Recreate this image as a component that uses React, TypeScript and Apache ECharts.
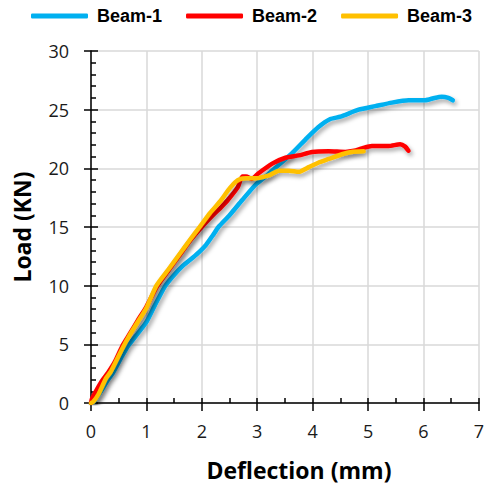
import React, { useEffect, useRef } from "react";
import * as echarts from "echarts";

const seriesNames = ["Beam-1", "Beam-2", "Beam-3"];
const seriesColors = ["#00B0F0", "#FF0000", "#FFC000"];

const beam1: [number, number][] = [
  [0, 0], [0.05, 0.1], [0.18, 1.0], [0.31, 2.0], [0.4, 2.6], [0.55, 3.9], [0.66, 4.8],
  [0.84, 5.9], [1.0, 6.9], [1.15, 8.3], [1.33, 9.9], [1.48, 10.8], [1.66, 11.7],
  [1.84, 12.4], [1.96, 12.9], [2.08, 13.5], [2.2, 14.3], [2.3, 15.0], [2.5, 16.0],
  [2.73, 17.3], [2.97, 18.6], [3.15, 19.3], [3.39, 20.3], [3.63, 21.3], [3.9, 22.6],
  [4.1, 23.5], [4.32, 24.2], [4.5, 24.4], [4.83, 25.0], [5.13, 25.3], [5.43, 25.6],
  [5.73, 25.8], [6.03, 25.8], [6.2, 26.0], [6.33, 26.1], [6.45, 26.0], [6.53, 25.8],
];

const beam2: [number, number][] = [
  [0, 0], [0.02, 0.4], [0.1, 1.1], [0.2, 1.9], [0.31, 2.6], [0.43, 3.5], [0.57, 4.9],
  [0.7, 5.9], [0.84, 7.0], [1.0, 8.2], [1.2, 10.0], [1.4, 11.3], [1.6, 12.6],
  [1.8, 13.9], [2.0, 15.0], [2.2, 16.0], [2.35, 16.7], [2.47, 17.3], [2.65, 18.4],
  [2.73, 19.3], [2.8, 19.3], [2.9, 19.1], [3.03, 19.6], [3.27, 20.4], [3.51, 20.9],
  [3.75, 21.1], [3.99, 21.4], [4.29, 21.45], [4.59, 21.4], [4.75, 21.5], [4.89, 21.7],
  [5.07, 21.9], [5.37, 21.9], [5.58, 22.05], [5.67, 21.85], [5.73, 21.5],
];

const beam3: [number, number][] = [
  [0, 0], [0.04, 0.1], [0.13, 0.7], [0.27, 2.1], [0.36, 2.7], [0.55, 4.5], [0.7, 5.8],
  [0.87, 7.1], [1.0, 8.1], [1.18, 10.0], [1.4, 11.4], [1.6, 12.7], [1.8, 14.0],
  [1.96, 15.0], [2.15, 16.2], [2.35, 17.3], [2.47, 18.1], [2.6, 18.8], [2.7, 19.1],
  [2.8, 19.15], [2.97, 19.15], [3.21, 19.4], [3.39, 19.8], [3.57, 19.8], [3.75, 19.7],
  [3.93, 20.1], [4.11, 20.5], [4.29, 20.8], [4.53, 21.2], [4.7, 21.4], [4.92, 21.45],
];

const xMin = 0, xMax = 7, xStep = 1;
const yMin = 0, yMax = 30, yStep = 5;
const xTitle = "Deflection (mm)";
const yTitle = "Load (KN)";

export default function App() {
  const ref = useRef<HTMLDivElement>(null);
  useEffect(() => {
    if (!ref.current) return;
    const chart = echarts.init(ref.current, null, { renderer: "svg" });
    const labelFont = { fontFamily: "Open Sans", fontSize: 18, color: "#1a1a1a" };
    const nameFont = { fontFamily: "Open Sans", fontSize: 23, fontWeight: "bold" as const, color: "#000" };
    const datas = [beam1, beam2, beam3];
    const tickLine = { color: "#000", width: 1.5 };
    chart.setOption({
      animation: false,
      backgroundColor: "#fff",
      legend: {
        top: 7,
        left: 31,
        padding: 0,
        itemWidth: 57,
        itemHeight: 5,
        itemGap: 24,
        icon: "roundRect",
        textStyle: { fontFamily: "Liberation Sans", fontSize: 18, fontWeight: "bold", color: "#000", padding: [0, 0, 0, 4] },
        data: seriesNames,
      },
      grid: { left: 91, right: 6, top: 51, bottom: 83 },
      xAxis: [
        {
          type: "value", min: xMin, max: xMax, interval: xStep, position: "bottom",
          name: xTitle, nameLocation: "middle", nameGap: 55,
          nameTextStyle: { ...nameFont, padding: [0, 0, 0, 28] },
          axisLine: { show: true, onZero: false, lineStyle: { color: "#000", width: 1.5 } },
          axisTick: { show: true, length: 8, lineStyle: tickLine },
          axisLabel: { ...labelFont, margin: 19 },
          splitLine: { show: true, lineStyle: { color: "#d9d9d9", width: 1.5 } },
        },
        {
          type: "value", min: xMin, max: xMax, interval: xStep, position: "bottom",
          axisLine: { show: true, onZero: false, lineStyle: { color: "rgba(0,0,0,0)", width: 1 } },
          axisTick: { show: true, inside: true, length: 5, lineStyle: tickLine },
          minorTick: { show: true, splitNumber: 2, length: 5, lineStyle: tickLine },
          axisLabel: { show: false },
          splitLine: { show: false },
        },
      ],
      yAxis: [
        {
          type: "value", min: yMin, max: yMax, interval: yStep, position: "left",
          name: yTitle, nameLocation: "middle", nameGap: 58,
          nameTextStyle: nameFont,
          axisLine: { show: true, onZero: false, lineStyle: { color: "#000", width: 1.5 } },
          axisTick: { show: true, length: 7, lineStyle: tickLine },
          axisLabel: { ...labelFont, margin: 22 },
          splitLine: { show: true, lineStyle: { color: "#d9d9d9", width: 1.5 } },
        },
        {
          type: "value", min: yMin, max: yMax, interval: yStep, position: "left",
          axisLine: { show: true, onZero: false, lineStyle: { color: "rgba(0,0,0,0)", width: 1 } },
          axisTick: { show: true, inside: true, length: 7, lineStyle: tickLine },
          minorTick: { show: true, splitNumber: 5, length: 5, lineStyle: tickLine },
          axisLabel: { show: false },
          splitLine: { show: false },
        },
      ],
      series: datas.map((d, i) => ({
        name: seriesNames[i],
        type: "line",
        data: d,
        xAxisIndex: 0,
        yAxisIndex: 0,
        smooth: 0.2,
        symbol: "none",
        showSymbol: false,
        color: seriesColors[i],
        lineStyle: {
          color: seriesColors[i], width: 4.5, cap: "round", join: "round",
          shadowColor: "rgba(0,0,0,0.35)", shadowBlur: 4, shadowOffsetX: 2, shadowOffsetY: 3,
        },
        itemStyle: { color: seriesColors[i] },
      })),
    });
    return () => chart.dispose();
  }, []);
  return <div ref={ref} style={{ width: 487, height: 486, position: "absolute", left: 0, top: 0 }} />;
}
